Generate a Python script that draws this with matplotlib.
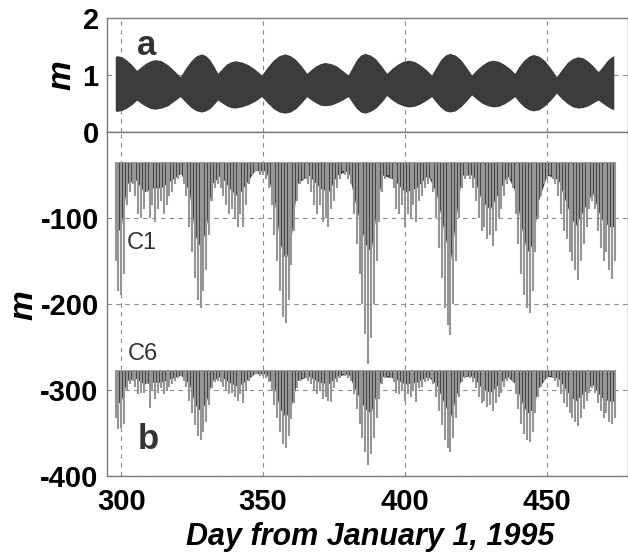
import numpy as np
import matplotlib
matplotlib.use("Agg")
import matplotlib.pyplot as plt

plt.rcParams['font.family'] = ['Liberation Sans', 'DejaVu Sans']

# ---- panel a: tidal water level envelope (m) ----
days_a = [297.9, 298.5, 300.25, 302, 303.75, 305.5, 307.1, 308.75, 310.4, 312,
          314.2, 316.4, 318.6, 320.8, 322.7, 324.6, 326.5, 328.4, 329.8, 331.2,
          332.6, 334, 335.5, 337.05, 338.6, 340.1, 342.45, 344.8, 347.15, 349.5,
          351.55, 353.6, 355.65, 357.7, 359.6, 361.55, 363.5, 365.4, 367, 368.6,
          370.2, 371.8, 373.85, 375.9, 377.95, 380, 381.5, 382.95, 384.4, 385.9,
          387.8, 389.75, 391.7, 393.6, 395.5, 397.4, 399.3, 401.2, 403.25, 405.3,
          407.35, 409.4, 411, 412.6, 414.2, 415.8, 417.7, 419.65, 421.6, 423.5,
          425.4, 427.3, 429.2, 431.1, 433, 434.9, 436.8, 438.7, 440.3, 441.95,
          443.6, 445.2, 447.25, 449.3, 451.35, 453.4, 455.3, 457.2, 459.1, 461,
          462.8, 464.55, 466.3, 468.1, 469.5, 470.85, 472.2, 473.6]
upper_a = [1.32, 1.34, 1.32, 1.26, 1.18, 1.08, 1.15, 1.21, 1.25, 1.27,
           1.25, 1.18, 1.08, 0.97, 1.12, 1.25, 1.34, 1.37, 1.34, 1.27,
           1.16, 1.03, 1.11, 1.19, 1.23, 1.25, 1.23, 1.18, 1.10, 1.00,
           1.14, 1.26, 1.34, 1.37, 1.34, 1.27, 1.16, 1.03, 1.10, 1.16,
           1.20, 1.22, 1.20, 1.16, 1.08, 1.00, 1.14, 1.27, 1.35, 1.38,
           1.35, 1.28, 1.16, 1.03, 1.12, 1.19, 1.24, 1.26, 1.24, 1.18,
           1.10, 1.00, 1.14, 1.27, 1.35, 1.38, 1.35, 1.27, 1.14, 1.00,
           1.10, 1.18, 1.24, 1.26, 1.24, 1.19, 1.12, 1.03, 1.16, 1.26,
           1.33, 1.36, 1.33, 1.25, 1.12, 0.97, 1.10, 1.22, 1.29, 1.32,
           1.30, 1.24, 1.16, 1.06, 1.14, 1.23, 1.30, 1.34]
lower_a = [0.37, 0.36, 0.38, 0.42, 0.48, 0.56, 0.50, 0.45, 0.41, 0.40,
           0.42, 0.46, 0.54, 0.62, 0.52, 0.43, 0.37, 0.35, 0.37, 0.41,
           0.48, 0.56, 0.51, 0.46, 0.43, 0.42, 0.44, 0.48, 0.54, 0.62,
           0.51, 0.41, 0.35, 0.33, 0.35, 0.41, 0.51, 0.62, 0.56, 0.51,
           0.47, 0.46, 0.47, 0.51, 0.56, 0.62, 0.51, 0.41, 0.35, 0.33,
           0.36, 0.42, 0.52, 0.64, 0.56, 0.50, 0.46, 0.44, 0.45, 0.49,
           0.55, 0.62, 0.52, 0.43, 0.37, 0.35, 0.37, 0.44, 0.54, 0.65,
           0.57, 0.50, 0.46, 0.44, 0.45, 0.49, 0.55, 0.62, 0.52, 0.44,
           0.39, 0.37, 0.39, 0.46, 0.56, 0.68, 0.58, 0.50, 0.44, 0.42,
           0.43, 0.46, 0.51, 0.56, 0.51, 0.46, 0.42, 0.39]

# ---- panel b: hydraulic head at C1 and C6 (m) ----
days_b = np.arange(298, 475)
c1_base = -35
c6_base = -277
c1_tip = [-150, -185, -190, -165, -85, -70, -60, -75, -95, -100,
          -90, -70, -100, -85, -105, -90, -80, -95, -85, -75,
          -70, -60, -55, -50, -60, -75, -110, -140, -170, -195,
          -205, -185, -160, -120, -80, -65, -60, -65, -75, -85,
          -95, -90, -100, -110, -95, -110, -85, -60, -50, -45,
          -45, -50, -50, -55, -65, -85, -120, -150, -185, -215,
          -222, -195, -155, -115, -80, -60, -55, -55, -60, -70,
          -85, -95, -85, -105, -100, -110, -90, -80, -65, -55,
          -45, -50, -55, -60, -95, -130, -165, -200, -235, -270,
          -240, -200, -150, -105, -70, -55, -50, -55, -65, -90,
          -95, -85, -110, -95, -100, -85, -105, -80, -75, -65,
          -60, -55, -70, -100, -135, -170, -205, -225, -236, -200,
          -150, -100, -65, -55, -50, -55, -65, -80, -100, -115,
          -110, -125, -120, -133, -115, -100, -90, -75, -60, -55,
          -65, -95, -130, -165, -190, -205, -211, -185, -140, -100,
          -75, -60, -55, -50, -55, -60, -75, -95, -115, -125,
          -140, -150, -160, -172, -150, -130, -110, -90, -80, -90,
          -115, -135, -150, -140, -160, -171, -150]
c6_tip = [-332, -345, -344, -339, -301, -293, -289, -296, -305, -303,
          -303, -293, -321, -301, -310, -303, -298, -305, -301, -296,
          -293, -289, -286, -284, -289, -296, -313, -327, -341, -353,
          -358, -349, -337, -317, -298, -291, -289, -291, -296, -301,
          -305, -303, -308, -313, -305, -315, -301, -289, -284, -281,
          -281, -284, -284, -286, -291, -301, -317, -332, -349, -363,
          -368, -353, -334, -315, -298, -289, -286, -286, -289, -293,
          -301, -305, -301, -310, -308, -313, -314, -298, -291, -286,
          -281, -284, -286, -289, -305, -322, -339, -356, -372, -387,
          -375, -356, -332, -310, -293, -286, -284, -286, -291, -303,
          -305, -301, -313, -305, -308, -301, -314, -298, -296, -291,
          -289, -286, -293, -308, -325, -341, -358, -367, -372, -356,
          -332, -308, -291, -286, -284, -286, -291, -298, -308, -315,
          -313, -320, -317, -325, -315, -308, -303, -296, -289, -286,
          -291, -305, -322, -339, -351, -358, -361, -349, -327, -308,
          -296, -289, -286, -284, -286, -289, -296, -305, -315, -320,
          -327, -332, -337, -342, -332, -322, -313, -303, -298, -303,
          -315, -325, -332, -327, -337, -340, -332]

core_days = [298, 300, 302, 305, 308, 311, 314, 318, 321, 324, 326, 328, 330, 332,
             335, 338, 341, 344, 347, 351, 354, 356, 358, 360, 362, 366, 370, 373,
             376, 380, 383, 386, 388, 390, 392, 396, 400, 404, 408, 411, 414, 416,
             418, 420, 424, 427, 430, 433, 436, 439, 441, 443, 445, 447, 450, 454,
             457, 460, 463, 466, 469, 472, 474]
c1_core = [-120, -110, -60, -55, -70, -65, -65, -55, -48, -70,
           -120, -135, -110, -60, -50, -65, -75, -60, -45, -45,
           -80, -130, -150, -120, -60, -50, -65, -70, -50, -45,
           -90, -130, -140, -90, -50, -55, -70, -65, -50, -70,
           -120, -150, -100, -50, -50, -80, -90, -70, -50, -70,
           -110, -140, -130, -80, -50, -55, -85, -110, -90, -70,
           -100, -110, -110]
c6_core = [-317, -313, -289, -286, -293, -291, -291, -286, -283, -293,
           -317, -325, -313, -289, -284, -291, -296, -289, -281, -281,
           -298, -322, -332, -317, -289, -284, -291, -293, -284, -281,
           -303, -322, -327, -303, -284, -286, -293, -291, -284, -293,
           -317, -332, -308, -284, -284, -298, -303, -293, -284, -293,
           -313, -327, -322, -298, -284, -286, -301, -313, -303, -293,
           -308, -313, -313]

xticks = [300, 350, 400, 450]

fig = plt.figure(figsize=(6.28, 5.59), dpi=100)
ax_a = fig.add_axes([0.1704, 0.7639, 0.8296, 0.2039])
ax_b = fig.add_axes([0.1704, 0.1485, 0.8296, 0.6154])

tick_font = dict(fontsize=21, fontweight='bold')
grid_kw = dict(color='#8a8a8a', lw=0.8, ls=(0, (4, 4)))

# panel a
ax_a.fill_between(days_a, lower_a, upper_a, color='#3c3c3c', lw=0)
ax_a.set_xlim(295, 478.6)
ax_a.set_ylim(0, 2)
ax_a.set_yticks([0, 1, 2])
ax_a.set_xticks(xticks)
ax_a.set_xticklabels([])
ax_a.set_yticklabels(['0', '1', '2'], **tick_font)
ax_a.text(309, 1.51, 'a', fontsize=25, fontweight='bold', color='#333333',
          ha='center', va='center')

# panel b
ax_b.vlines(days_b, c1_base, c1_tip, color='#959595', lw=1.5)
ax_b.vlines(days_b, c6_base, c6_tip, color='#959595', lw=1.5)
ax_b.fill_between(core_days, c1_base, c1_core, color='#404040', lw=0)
ax_b.fill_between(core_days, c6_base, c6_core, color='#404040', lw=0)
ax_b.set_xlim(295, 478.6)
ax_b.set_ylim(-400, 0)
ax_b.set_yticks([-400, -300, -200, -100])
ax_b.set_yticklabels(['-400', '-300', '-200', '-100'], **tick_font)
ax_b.set_xticks(xticks)
ax_b.set_xticklabels([str(t) for t in xticks], **tick_font)
ax_b.text(307.4, -129, 'C1', fontsize=17, color='#333333', ha='center', va='center')
ax_b.text(307.7, -258, 'C6', fontsize=17, color='#333333', ha='center', va='center')
ax_b.text(309.5, -357, 'b', fontsize=25, fontweight='bold', color='#333333',
          ha='center', va='center')

for ax in (ax_a, ax_b):
    ax.grid(True, **grid_kw)
    ax.set_axisbelow(True)
    ax.tick_params(length=0, pad=6)
    ax.tick_params(axis='x', pad=9)
    for s in ax.spines.values():
        s.set_color('#7a7a7a')
        s.set_linewidth(1.0)

fig.text(62 / 628, 1 - 75 / 559, 'm', fontsize=24, fontweight='bold', style='italic',
         rotation=90, ha='center', va='center')
fig.text(24 / 628, 1 - 305 / 559, 'm', fontsize=24, fontweight='bold', style='italic',
         rotation=90, ha='center', va='center')
fig.text(370 / 628, 1 - 537 / 559, 'Day from January 1, 1995', fontsize=22,
         fontweight='bold', style='italic', ha='center', va='center')

fig.savefig('out.png', dpi=100)
